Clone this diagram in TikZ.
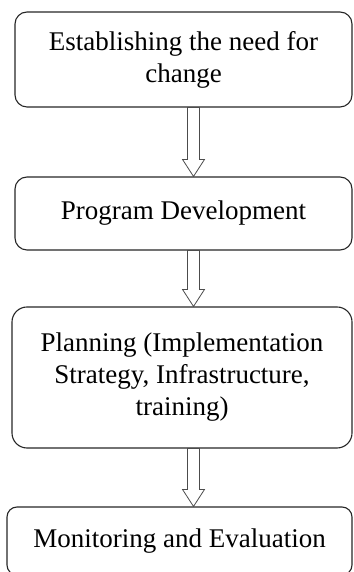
\documentclass[tikz,border=0pt]{standalone}
\usepackage{fontspec}
\setmainfont{Liberation Serif}
\usepackage{tikz}
\usetikzlibrary{positioning,calc}

% hollow block arrow from the bottom of #1 to the top of #2, on the line ax
\newcommand{\flowto}[2]{%
    \draw[hollow] (ax |- #2.north) -- ++(-11,17) -- ++(5,0)
        -- ($(ax |- #1.south)+(-6,0)$) -- ++(12,0)
        -- ($(ax |- #2.north)+(6,17)$) -- ++(5,0) -- cycle;
}

\begin{document}
\begin{tikzpicture}[x=1pt, y=1pt,
    stage/.style={rectangle, draw=black!85, line width=1.1pt, rounded corners=12pt,
        align=center, font=\fontsize{27}{32}\selectfont, inner sep=0pt},
    hollow/.style={draw=black!70, line width=0.8pt, fill=white}]
    \useasboundingbox (0,0) rectangle (353,572);
    \coordinate (ax) at (193.5,0);
    \node [stage, minimum width=337pt, minimum height=95pt] (b1) at (183.5,512.5) {Establishing the need for\\change};
    \node [stage, minimum width=337pt, minimum height=73pt] (b2) at (183.5,358.5) {Program Development};
    \node [stage, minimum width=340pt, minimum height=141pt, rounded corners=15pt] (b3) at (182,194.5) {Planning (Implementation\\Strategy, Infrastructure,\\training)};
    \node [stage, minimum width=345pt, minimum height=68pt, rounded corners=10pt] (b4) at (179.5,31) {Monitoring and Evaluation};
    \flowto{b1}{b2}
    \flowto{b2}{b3}
    \flowto{b3}{b4}
\end{tikzpicture}
\end{document}
